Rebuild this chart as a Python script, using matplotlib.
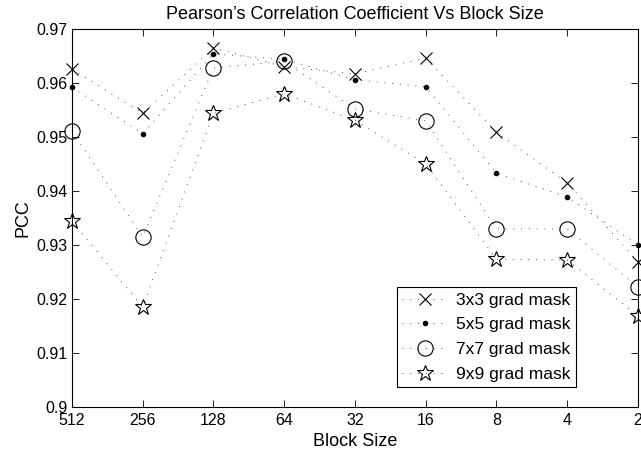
import matplotlib
matplotlib.use('Agg')
import matplotlib.pyplot as plt

plt.rcParams['font.family'] = ['Liberation Sans', 'DejaVu Sans']

# Block sizes on the x axis (largest first)
block_sizes = [512, 256, 128, 64, 32, 16, 8, 4, 2]
block_labels = ['512', '256', '128', '64', '32', '16', '8', '4', '2']

# PCC for each gradient mask size
pcc_3x3 = [0.9626, 0.9544, 0.9665, 0.9630, 0.9617, 0.9646, 0.9509, 0.9415, 0.9269]
pcc_5x5 = [0.9592, 0.9506, 0.9654, 0.9644, 0.9606, 0.9593, 0.9433, 0.9389, 0.9300]
pcc_7x7 = [0.9511, 0.9315, 0.9628, 0.9640, 0.9552, 0.9530, 0.9330, 0.9330, 0.9222]
pcc_9x9 = [0.9344, 0.9185, 0.9544, 0.9580, 0.9531, 0.9450, 0.9274, 0.9272, 0.9169]

y_ticks = [0.90, 0.91, 0.92, 0.93, 0.94, 0.95, 0.96, 0.97]
y_labels = ['0.9', '0.91', '0.92', '0.93', '0.94', '0.95', '0.96', '0.97']

fig = plt.figure(figsize=(6.41, 4.54), dpi=100)
ax = fig.add_axes([0.1123, 0.1035, 0.8830, 0.8326])

# sparse grey dots between the markers
line_kw = dict(linestyle=(0, (1, 7)), color='#555555', linewidth=0.7,
               markeredgecolor='black', clip_on=False)
ax.plot(block_sizes, pcc_3x3, marker='x', markersize=9, markeredgewidth=0.8,
        label='3x3 grad mask', **line_kw)
ax.plot(block_sizes, pcc_5x5, marker='.', markersize=6, markerfacecolor='black',
        label='5x5 grad mask', **line_kw)
ax.plot(block_sizes, pcc_7x7, marker='o', markersize=11, markerfacecolor='none',
        markeredgewidth=0.8, label='7x7 grad mask', **line_kw)
ax.plot(block_sizes, pcc_9x9, marker='*', markersize=12, markerfacecolor='none',
        markeredgewidth=0.8, label='9x9 grad mask', **line_kw)

ax.set_xscale('log', base=2)
ax.set_xlim(512, 2)
ax.set_xticks(block_sizes)
ax.set_xticklabels(block_labels)
ax.minorticks_off()
ax.set_ylim(0.9, 0.97)
ax.set_yticks(y_ticks)
ax.set_yticklabels(y_labels)

ax.tick_params(direction='in', top=True, right=True, length=5, width=0.6,
               labelsize=11.5)
ax.tick_params(axis='x', pad=4)
ax.tick_params(axis='y', pad=3)
for sp in ax.spines.values():
    sp.set_linewidth(0.8)

ax.set_title("Pearson\u2019s Correlation Coefficient Vs Block Size", fontsize=13, pad=7)
ax.set_xlabel('Block Size', fontsize=13, labelpad=4)
ax.set_ylabel('PCC', fontsize=13, labelpad=4)

leg = ax.legend(loc='lower right', bbox_to_anchor=(0.890, 0.053), fontsize=12.5,
                frameon=True, fancybox=False, edgecolor='black', framealpha=1,
                handlelength=2.6, borderpad=0.3, labelspacing=0.55,
                handletextpad=0.5, borderaxespad=0)
leg.get_frame().set_linewidth(0.8)

fig.savefig('out.png', dpi=100)
